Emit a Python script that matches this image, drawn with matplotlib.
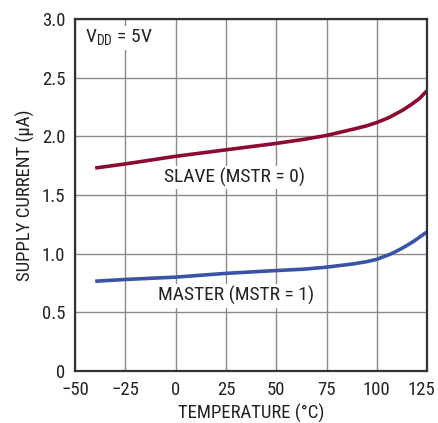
import matplotlib.pyplot as plt
import matplotlib.transforms as mtransforms
from matplotlib import font_manager

# prefer a condensed face, like the original datasheet font
names = {f.name for f in font_manager.fontManager.ttflist}
font = 'Liberation Sans'
for cand in ['Liberation Sans Narrow', 'Roboto Condensed', 'DejaVu Sans Condensed']:
    if cand in names:
        font = cand
        break
plt.rcParams['font.family'] = [font, 'DejaVu Sans']

temp_slave = [-40, -25, 0, 25, 50, 64, 75, 88, 95, 100, 106, 113, 117, 121, 125]
curr_slave = [1.73, 1.765, 1.83, 1.885, 1.94, 1.975, 2.008, 2.06, 2.09, 2.118, 2.16, 2.225, 2.27, 2.32, 2.39]

temp_master = [-40, -25, 0, 25, 50, 64, 75, 88, 95, 100, 107, 111, 115, 118, 121, 125]
curr_master = [0.765, 0.78, 0.80, 0.832, 0.856, 0.868, 0.885, 0.912, 0.932, 0.952, 0.998, 1.032, 1.07, 1.102, 1.138, 1.186]

xticks = [-50, -25, 0, 25, 50, 75, 100, 125]
yticks = [0, 0.5, 1.0, 1.5, 2.0, 2.5, 3.0]
ylabels = ['0', '0.5', '1.0', '1.5', '2.0', '2.5', '3.0']

fig = plt.figure(figsize=(4.39, 4.23), dpi=100)
ax = fig.add_axes([0.171, 0.123, 0.802, 0.832])

ax.plot(temp_slave, curr_slave, color='#8c0a30', lw=2.6, solid_capstyle='butt')
ax.plot(temp_master, curr_master, color='#3a53a4', lw=2.6, solid_capstyle='butt')

ax.set_xlim(-50, 125)
ax.set_ylim(0, 3.0)
ax.set_xticks(xticks)
ax.set_yticks(yticks)
ax.set_yticklabels(ylabels)
ax.tick_params(length=0, labelsize=13.5, colors='#222222')
ax.tick_params(axis='x', pad=7)
ax.tick_params(axis='y', pad=7)
ax.grid(True, color='#8a8a8a', lw=1.0)
ax.set_axisbelow(True)
for s in ax.spines.values():
    s.set_color('#333333')
    s.set_linewidth(1.6)

# nudge the last x tick label a little left so it stays inside the picture
last = ax.get_xticklabels()[-1]
last.set_transform(last.get_transform() +
                   mtransforms.ScaledTranslation(-4 / 72, 0, fig.dpi_scale_trans))

ax.set_xlabel('TEMPERATURE (°C)', fontsize=13.5, color='#222222', labelpad=4)
ax.set_ylabel('SUPPLY CURRENT (µA)', fontsize=13.5, color='#222222', labelpad=5)

box = dict(facecolor='white', edgecolor='none', pad=1.5)
ax.text(-45, 2.84, r'V$_{\mathregular{DD}}$ = 5V', fontsize=14, color='#222222',
        ha='left', va='center', bbox=box)
ax.text(29, 1.65, 'SLAVE (MSTR = 0)', fontsize=14, color='#222222',
        ha='center', va='center', bbox=box)
ax.text(30, 0.64, 'MASTER (MSTR = 1)', fontsize=14, color='#222222',
        ha='center', va='center', bbox=box)

fig.savefig('out.png', dpi=100)
